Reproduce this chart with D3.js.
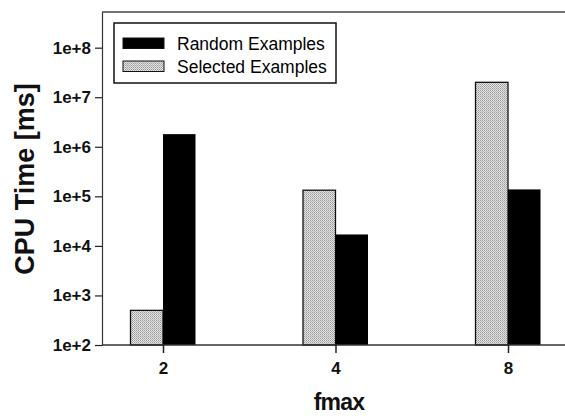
<!DOCTYPE html>
<html>
<head>
<meta charset="utf-8">
<script src="https://cdn.jsdelivr.net/npm/d3@7"></script>
<style>
  body { margin: 0; background: #fff; }
  svg { font-family: "Liberation Sans", Arial, sans-serif; }
</style>
</head>
<body>
<svg width="565" height="416"></svg>
<script>
var categories = ["2", "4", "8"];
var selected = [500, 133000, 20000000];
var random = [1800000, 17000, 138000];
var yTicks = [1e2, 1e3, 1e4, 1e5, 1e6, 1e7, 1e8];
var seriesNames = ["Random Examples", "Selected Examples"];

var svg = d3.select("svg");
var margin = {top: 12, right: -2, bottom: 71, left: 102};
var width = +svg.attr("width") - margin.left - margin.right;
var height = +svg.attr("height") - margin.top - margin.bottom;
var g = svg.append("g").attr("transform", "translate(" + margin.left + "," + margin.top + ")");

// stipple fill for the selected bars
var pat = svg.append("defs").append("pattern")
    .attr("id", "stipple")
    .attr("width", 2).attr("height", 2)
    .attr("patternUnits", "userSpaceOnUse");
pat.append("rect").attr("width", 2).attr("height", 2).attr("fill", "#e2e2e2");
pat.append("rect").attr("width", 1).attr("height", 1).attr("fill", "#9a9a9a");
pat.append("rect").attr("x", 1).attr("y", 1).attr("width", 1).attr("height", 1).attr("fill", "#b4b4b4");

var x = d3.scalePoint()
    .domain(categories)
    .range([61, 406]);

var barW = 32.5;

var y = d3.scaleLog()
    .domain([100, Math.pow(10, 8.72)])
    .range([height, 0]);

// frame top
g.append("line")
  .attr("x1", 0).attr("x2", width).attr("y1", 0).attr("y2", 0)
  .attr("stroke", "#444").attr("stroke-width", 1.5);

// bars
g.selectAll(".sel")
  .data(categories)
  .enter().append("rect")
  .attr("x", function(d) { return x(d) - barW; })
  .attr("y", function(d, i) { return y(selected[i]); })
  .attr("width", barW)
  .attr("height", function(d, i) { return height - y(selected[i]); })
  .attr("fill", "url(#stipple)")
  .attr("stroke", "#111")
  .attr("stroke-width", 1.3);

g.selectAll(".rnd")
  .data(categories)
  .enter().append("rect")
  .attr("x", function(d) { return x(d); })
  .attr("y", function(d, i) { return y(random[i]); })
  .attr("width", barW)
  .attr("height", function(d, i) { return height - y(random[i]); })
  .attr("fill", "#000");

g.append("line")
  .attr("x1", 0).attr("x2", width).attr("y1", height).attr("y2", height)
  .attr("stroke", "#333").attr("stroke-width", 1.5);

// axes
var yAxis = g.append("g")
  .call(d3.axisLeft(y)
    .tickValues(yTicks)
    .tickSize(7)
    .tickSizeOuter(0)
    .tickPadding(4)
    .tickFormat(function(d) { return "1e+" + Math.round(Math.log10(d)); }));
yAxis.select(".domain").attr("stroke", "#333").attr("stroke-width", 1.2);
yAxis.selectAll(".tick line").attr("stroke", "#222").attr("stroke-width", 1.2);
yAxis.selectAll("text")
  .attr("font-size", 17)
  .attr("font-weight", "bold")
  .attr("fill", "#111")
  .style("font-family", "'Liberation Sans', Arial, sans-serif");

var xAxis = g.append("g")
  .attr("transform", "translate(0," + height + ")")
  .call(d3.axisBottom(x).tickSize(8).tickSizeOuter(0).tickPadding(9));
xAxis.select(".domain").remove();
xAxis.selectAll(".tick line").attr("stroke", "#222").attr("stroke-width", 1.5);
xAxis.selectAll("text")
  .attr("font-size", 17)
  .attr("font-weight", "bold")
  .attr("fill", "#111")
  .style("font-family", "'Liberation Sans', Arial, sans-serif");

// axis titles
svg.append("text")
  .attr("transform", "translate(34,179) rotate(-90)")
  .attr("text-anchor", "middle")
  .attr("font-size", 27)
  .attr("font-weight", "bold")
  .attr("fill", "#111")
  .text("CPU Time [ms]");

svg.append("text")
  .attr("x", 339)
  .attr("y", 410)
  .attr("text-anchor", "middle")
  .attr("font-size", 23)
  .attr("font-weight", "bold")
  .attr("fill", "#111")
  .attr("letter-spacing", -0.8)
  .text("fmax");

// legend
var lg = svg.append("g").attr("transform", "translate(114,23)");
lg.append("rect")
  .attr("width", 222).attr("height", 60)
  .attr("fill", "#fff")
  .attr("stroke", "#111").attr("stroke-width", 1.5);

var fills = ["#000", "url(#stipple)"];
var items = lg.selectAll(".item")
  .data(seriesNames)
  .enter().append("g")
  .attr("transform", function(d, i) { return "translate(9," + (15 + i * 23) + ")"; });
items.append("rect")
  .attr("width", 41).attr("height", 10.5)
  .attr("fill", function(d, i) { return fills[i]; })
  .attr("stroke", "#111").attr("stroke-width", 1);
items.append("text")
  .attr("x", 54)
  .attr("y", 5.5)
  .attr("dy", "0.35em")
  .attr("font-size", 17.5)
  .attr("fill", "#000")
  .text(function(d) { return d; });
</script>
</body>
</html>
